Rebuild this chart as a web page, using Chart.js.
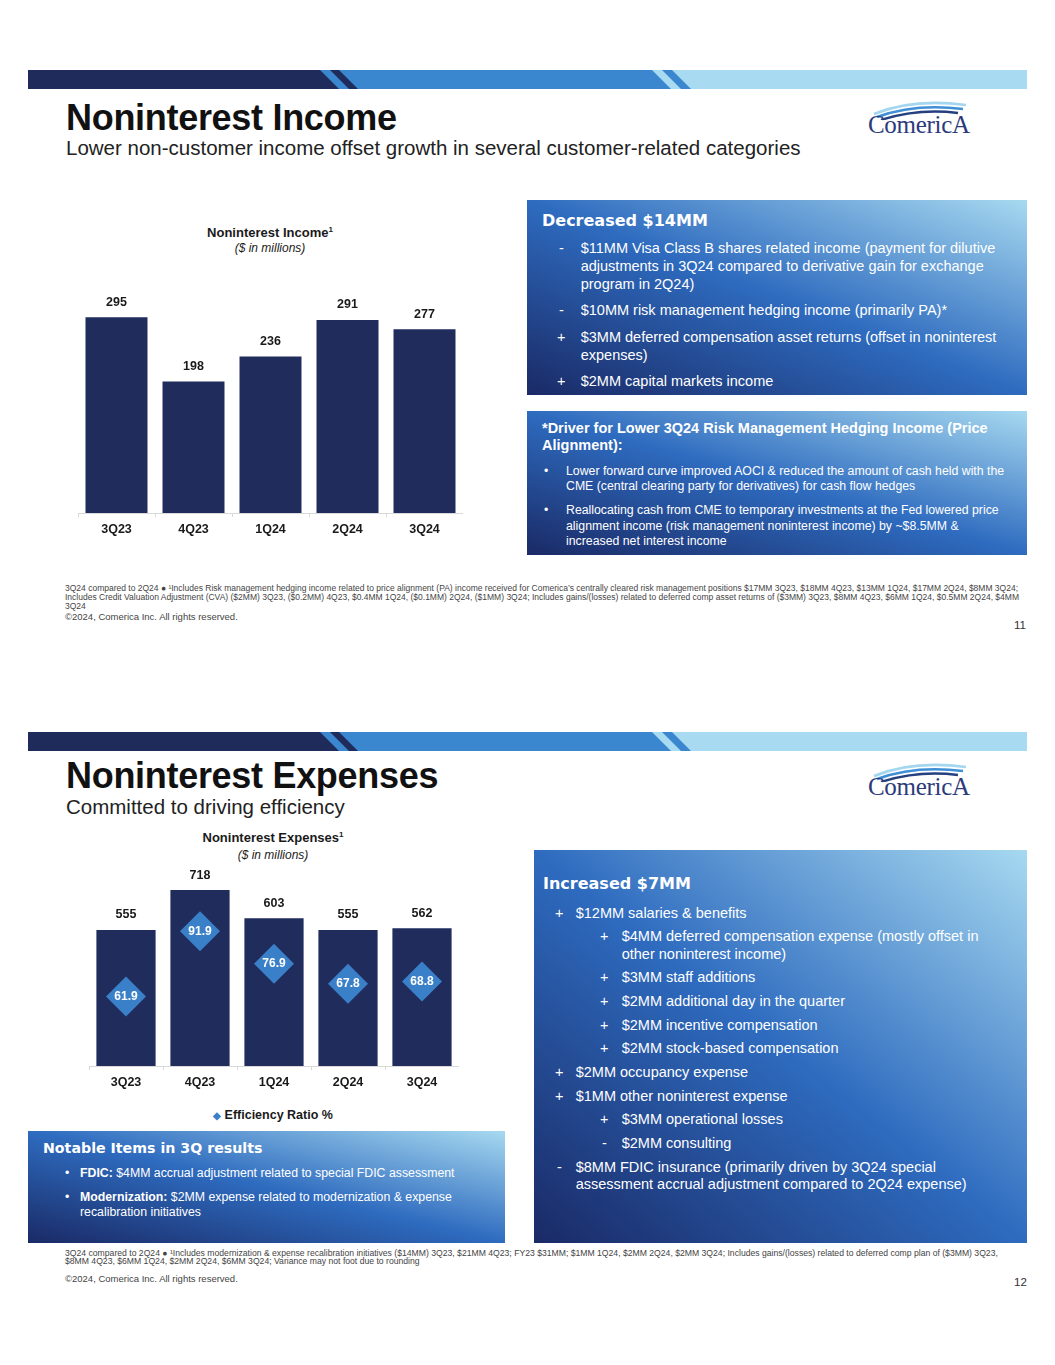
<!DOCTYPE html>
<html>
<head>
<meta charset="utf-8">
<script src="https://cdn.jsdelivr.net/npm/chart.js@4.4.1/dist/chart.umd.min.js"></script>
<style>
  html, body { margin: 0; padding: 0; background: #fff; }
  body { width: 1055px; height: 1365px; position: relative; overflow: hidden; font-family: "Liberation Sans", Arial, sans-serif; color: #1a1a1a; }
  .abs { position: absolute; white-space: nowrap; }
  .title { font-weight: bold; font-size: 36px; line-height: 30px; letter-spacing: -0.3px; color: #111; }
  .sub { font-size: 20.5px; line-height: 22px; color: #222; }
  .ctitle { font-weight: bold; font-size: 13px; line-height: 16px; text-align: center; width: 300px; }
  .ctitle sup { font-size: 8px; line-height: 0; vertical-align: 5px; }
  .cunit { font-style: italic; font-size: 12px; line-height: 14px; text-align: center; width: 300px; }
  .panel { position: absolute; color: #fff; background: linear-gradient(to top right, #1a2a66 0%, #2e6bbf 50%, #a7d9f0 100%); }
  .panel .head { position: absolute; left: 15px; white-space: nowrap; font-family: "DejaVu Sans", sans-serif; font-weight: bold; font-size: 16px; line-height: 20px; }
  .list { position: absolute; left: 0; right: 0; }
  .item { position: relative; white-space: nowrap; }
  .item .mk { position: absolute; }
  .foot { font-size: 8.5px; line-height: 8.6px; color: #444; }
  .copy { font-size: 9.5px; line-height: 11px; color: #444; }
  .pno { font-size: 11.5px; line-height: 12px; color: #333; }
  .logo { font-family: "Liberation Serif", "DejaVu Serif", serif; font-size: 25px; line-height: 24px; color: #2b3a7a; letter-spacing: -0.3px; }
</style>
</head>
<body>

<!-- slide 1 header band -->
<svg class="abs" style="left:0;top:70px" width="1055" height="19">
  <rect x="28" y="0" width="999" height="19" fill="#a8dbf1"/>
  <polygon points="28,0 672,0 691,19 28,19" fill="#3b87cf"/>
  <polygon points="652,0 662,0 681,19 671,19" fill="#a8dbf1"/>
  <polygon points="28,0 339,0 358,19 28,19" fill="#1f2b5b"/>
  <polygon points="320,0 330,0 349,19 339,19" fill="#3b87cf"/>
</svg>
<div class="abs title" style="left:66px;top:103px">Noninterest Income</div>
<div class="abs sub" style="left:66px;top:137px">Lower non-customer income offset growth in several customer-related categories</div>
<svg class="abs" style="left:868px;top:98px" width="110" height="22">
  <path d="M6 16 Q45 0 98 7" stroke="#a3d6ef" stroke-width="2.6" fill="none"/>
  <path d="M9 19 Q47 5 95 11" stroke="#3f8fd6" stroke-width="2.6" fill="none"/>
  <path d="M13 22 Q50 10 90 15" stroke="#24407f" stroke-width="2.4" fill="none"/>
</svg>
<div class="abs logo" style="left:868px;top:113px">ComericA</div>

<div class="abs ctitle" style="left:120px;top:225px">Noninterest Income<sup>1</sup></div>
<div class="abs cunit" style="left:120px;top:241px">($ in millions)</div>
<div class="abs" style="left:78px;top:294px;width:385px;height:249px"><canvas id="incomeChart"></canvas></div>

<div class="panel" style="left:527px;top:200px;width:500px;height:195px">
  <div class="head" style="top:10.7px">Decreased $14MM</div>
  <div class="list" style="top:40.2px;font-size:14.5px;line-height:17.7px">
    <div class="item" style="padding-left:53.7px;margin-bottom:9px"><span class="mk" style="left:32px">-</span>$11MM Visa Class B shares related income (payment for dilutive<br>adjustments in 3Q24 compared to derivative gain for exchange<br>program in 2Q24)</div>
    <div class="item" style="padding-left:53.7px;margin-bottom:9px"><span class="mk" style="left:32px">-</span>$10MM risk management hedging income (primarily PA)*</div>
    <div class="item" style="padding-left:53.7px;margin-bottom:9px"><span class="mk" style="left:30px">+</span>$3MM deferred compensation asset returns (offset in noninterest<br>expenses)</div>
    <div class="item" style="padding-left:53.7px"><span class="mk" style="left:30px">+</span>$2MM capital markets income</div>
  </div>
</div>

<div class="panel" style="left:527px;top:411px;width:500px;height:144px">
  <div class="abs" style="left:15px;top:8.6px;font-weight:bold;font-size:14.5px;line-height:17.4px">*Driver for Lower 3Q24 Risk Management Hedging Income (Price<br>Alignment):</div>
  <div class="list" style="top:53.1px;font-size:12.3px;line-height:15.2px">
    <div class="item" style="padding-left:39px;margin-bottom:8.8px"><span class="mk" style="left:17px">•</span>Lower forward curve improved AOCI &amp; reduced the amount of cash held with the<br>CME (central clearing party for derivatives) for cash flow hedges</div>
    <div class="item" style="padding-left:39px"><span class="mk" style="left:17px">•</span>Reallocating cash from CME to temporary investments at the Fed lowered price<br>alignment income (risk management noninterest income) by ~$8.5MM &amp;<br>increased net interest income</div>
  </div>
</div>

<div class="abs foot" style="left:65px;top:584.4px">3Q24 compared to 2Q24 ● ¹Includes Risk management hedging income related to price alignment (PA) income received for Comerica’s centrally cleared risk management positions $17MM 3Q23, $18MM 4Q23, $13MM 1Q24, $17MM 2Q24, $8MM 3Q24;<br>Includes Credit Valuation Adjustment (CVA) ($2MM) 3Q23, ($0.2MM) 4Q23, $0.4MM 1Q24, ($0.1MM) 2Q24, ($1MM) 3Q24; Includes gains/(losses) related to deferred comp asset returns of ($3MM) 3Q23, $8MM 4Q23, $6MM 1Q24, $0.5MM 2Q24, $4MM<br>3Q24</div>
<div class="abs copy" style="left:65px;top:611px">©2024, Comerica Inc. All rights reserved.</div>
<div class="abs pno" style="left:1014px;top:619px">11</div>

<!-- slide 2 header band -->
<svg class="abs" style="left:0;top:732px" width="1055" height="19">
  <rect x="28" y="0" width="999" height="19" fill="#a8dbf1"/>
  <polygon points="28,0 672,0 691,19 28,19" fill="#3b87cf"/>
  <polygon points="652,0 662,0 681,19 671,19" fill="#a8dbf1"/>
  <polygon points="28,0 339,0 358,19 28,19" fill="#1f2b5b"/>
  <polygon points="320,0 330,0 349,19 339,19" fill="#3b87cf"/>
</svg>
<div class="abs title" style="left:66px;top:761px">Noninterest Expenses</div>
<div class="abs sub" style="left:66px;top:796px">Committed to driving efficiency</div>
<svg class="abs" style="left:868px;top:760px" width="110" height="22">
  <path d="M6 16 Q45 0 98 7" stroke="#a3d6ef" stroke-width="2.6" fill="none"/>
  <path d="M9 19 Q47 5 95 11" stroke="#3f8fd6" stroke-width="2.6" fill="none"/>
  <path d="M13 22 Q50 10 90 15" stroke="#24407f" stroke-width="2.4" fill="none"/>
</svg>
<div class="abs logo" style="left:868px;top:775px">ComericA</div>

<div class="abs ctitle" style="left:123px;top:830px">Noninterest Expenses<sup>1</sup></div>
<div class="abs cunit" style="left:123px;top:848px">($ in millions)</div>
<div class="abs" style="left:88.5px;top:870px;width:370px;height:226px"><canvas id="expenseChart"></canvas></div>
<div class="abs" style="left:200px;top:1107px;width:146px;text-align:center;font-weight:bold;font-size:12.5px;line-height:16px"><span style="color:#3a7fc8;font-size:10px">◆</span> Efficiency Ratio %</div>

<div class="panel" style="left:28px;top:1131px;width:477px;height:112px">
  <div class="head" style="top:7px;font-size:14.2px">Notable Items in 3Q results</div>
  <div class="list" style="top:34.5px;font-size:12.3px;line-height:15.2px">
    <div class="item" style="padding-left:52px;margin-bottom:9px"><span class="mk" style="left:37px">•</span><b>FDIC:</b> $4MM accrual adjustment related to special FDIC assessment</div>
    <div class="item" style="padding-left:52px"><span class="mk" style="left:37px">•</span><b>Modernization:</b> $2MM expense related to modernization &amp; expense<br>recalibration initiatives</div>
  </div>
</div>

<div class="panel" style="left:534px;top:850px;width:493px;height:393px">
  <div class="head" style="left:9px;top:24.3px">Increased $7MM</div>
  <div class="list" style="top:54.65px;font-size:14.5px;line-height:17.3px">
    <div class="item" style="padding-left:41.7px;margin-bottom:6.4px"><span class="mk" style="left:21px">+</span>$12MM salaries &amp; benefits</div>
    <div class="item" style="padding-left:87.7px;margin-bottom:6.4px"><span class="mk" style="left:66px">+</span>$4MM deferred compensation expense (mostly offset in<br>other noninterest income)</div>
    <div class="item" style="padding-left:87.7px;margin-bottom:6.4px"><span class="mk" style="left:66px">+</span>$3MM staff additions</div>
    <div class="item" style="padding-left:87.7px;margin-bottom:6.4px"><span class="mk" style="left:66px">+</span>$2MM additional day in the quarter</div>
    <div class="item" style="padding-left:87.7px;margin-bottom:6.4px"><span class="mk" style="left:66px">+</span>$2MM incentive compensation</div>
    <div class="item" style="padding-left:87.7px;margin-bottom:6.4px"><span class="mk" style="left:66px">+</span>$2MM stock-based compensation</div>
    <div class="item" style="padding-left:41.7px;margin-bottom:6.4px"><span class="mk" style="left:21px">+</span>$2MM occupancy expense</div>
    <div class="item" style="padding-left:41.7px;margin-bottom:6.4px"><span class="mk" style="left:21px">+</span>$1MM other noninterest expense</div>
    <div class="item" style="padding-left:87.7px;margin-bottom:6.4px"><span class="mk" style="left:66px">+</span>$3MM operational losses</div>
    <div class="item" style="padding-left:87.7px;margin-bottom:6.4px"><span class="mk" style="left:68px">-</span>$2MM consulting</div>
    <div class="item" style="padding-left:41.7px"><span class="mk" style="left:23px">-</span>$8MM FDIC insurance (primarily driven by 3Q24 special<br>assessment accrual adjustment compared to 2Q24 expense)</div>
  </div>
</div>

<div class="abs foot" style="left:65px;top:1248.5px;font-size:8.65px">3Q24 compared to 2Q24 ● ¹Includes modernization &amp; expense recalibration initiatives ($14MM) 3Q23, $21MM 4Q23; FY23 $31MM; $1MM 1Q24, $2MM 2Q24, $2MM 3Q24; Includes gains/(losses) related to deferred comp plan of ($3MM) 3Q23,<br>$8MM 4Q23, $6MM 1Q24, $2MM 2Q24, $6MM 3Q24; Variance may not foot due to rounding</div>
<div class="abs copy" style="left:65px;top:1273px">©2024, Comerica Inc. All rights reserved.</div>
<div class="abs pno" style="left:1014px;top:1276px">12</div>

<script>
const quarters = ["3Q23", "4Q23", "1Q24", "2Q24", "3Q24"]
const incomeValues = [295, 198, 236, 291, 277]
const expenseValues = [555, 718, 603, 555, 562]
const efficiencyRatio = [61.9, 91.9, 76.9, 67.8, 68.8]

const navy = "#1f2c5c"
const diamondBlue = "#3a80c9"
const labelFont = '"Liberation Sans", Arial, sans-serif'

// numbers above the bars and inside the diamonds
const valueLabels = {
    id: "valueLabels",
    afterDatasetsDraw(chart) {
        const ctx = chart.ctx
        chart.data.datasets.forEach(function (ds, i) {
            const meta = chart.getDatasetMeta(i)
            meta.data.forEach(function (el, j) {
                ctx.save()
                ctx.textAlign = "center"
                ctx.textBaseline = "middle"
                if (ds.type === "line") {
                    ctx.fillStyle = "#ffffff"
                    ctx.font = "bold 12px " + labelFont
                    ctx.fillText(ds.data[j].toFixed(1), el.x, el.y)
                } else {
                    ctx.fillStyle = "#1a1a1a"
                    ctx.font = "bold 12.5px " + labelFont
                    ctx.fillText(ds.data[j], el.x, el.y - 15)
                }
                ctx.restore()
            })
        })
    },
}

function xAxis() {
    return {
        grid: { display: true, drawOnChartArea: false, drawTicks: true, tickLength: 4, color: "#d9d9d9" },
        border: { display: true, color: "#d9d9d9" },
        ticks: { color: "#1a1a1a", padding: 5, font: { family: labelFont, weight: "bold", size: 12.5 } },
        afterFit(axis) {
            axis.height = 30
        },
    }
}

new Chart(document.getElementById("incomeChart").getContext("2d"), {
    type: "bar",
    data: {
        labels: quarters,
        datasets: [
            {
                type: "bar",
                data: incomeValues,
                backgroundColor: navy,
                barPercentage: 0.805,
                categoryPercentage: 1,
            },
        ],
    },
    options: {
        responsive: true,
        maintainAspectRatio: false,
        animation: false,
        layout: { padding: 0, autoPadding: false },
        plugins: { legend: { display: false }, tooltip: { enabled: false } },
        scales: {
            x: xAxis(),
            y: { display: false, min: 0, max: 330 },
        },
    },
    plugins: [valueLabels],
})

new Chart(document.getElementById("expenseChart").getContext("2d"), {
    type: "bar",
    data: {
        labels: quarters,
        datasets: [
            {
                type: "line",
                label: "Efficiency Ratio %",
                data: efficiencyRatio,
                yAxisID: "y2",
                showLine: false,
                pointStyle: "rectRot",
                pointRadius: 20,
                pointBackgroundColor: diamondBlue,
                pointBorderColor: diamondBlue,
                pointBorderWidth: 0,
                order: 0,
            },
            {
                type: "bar",
                data: expenseValues,
                backgroundColor: navy,
                barPercentage: 0.8,
                categoryPercentage: 1,
                order: 1,
            },
        ],
    },
    options: {
        responsive: true,
        maintainAspectRatio: false,
        animation: false,
        layout: { padding: 0, autoPadding: false },
        plugins: { legend: { display: false }, tooltip: { enabled: false } },
        scales: {
            x: xAxis(),
            y: { display: false, min: 0, max: 800 },
            y2: { display: false, min: 30, max: 120 },
        },
    },
    plugins: [valueLabels],
})
</script>
</body>
</html>
